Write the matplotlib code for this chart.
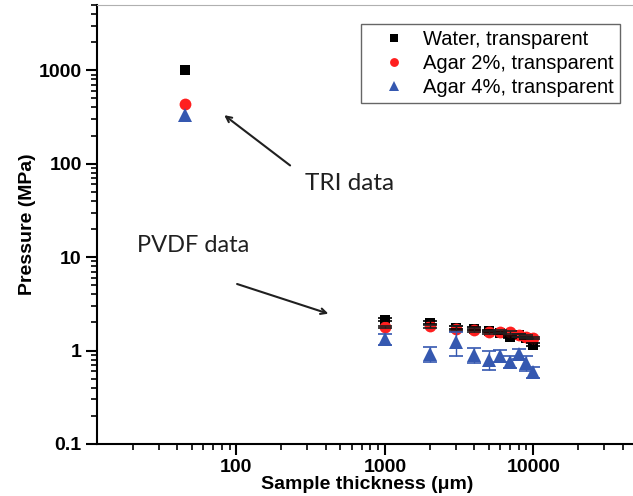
import numpy as np
import matplotlib
matplotlib.use("Agg")
import matplotlib.pyplot as plt
from matplotlib.ticker import FixedLocator, FixedFormatter, LogLocator, NullFormatter

# ---------------------------------------------------------
# Data
# ---------------------------------------------------------
TRI_X = [45]
TRI_WATER = [1000]
TRI_AGAR2 = [440]
TRI_AGAR4 = [335]

PVDF_X = [1000, 2000, 3000, 4000, 5000, 6000, 7000, 8000, 9000, 10000]
PVDF_WATER = [2.15, 1.99, 1.76, 1.72, 1.64, 1.56, 1.39, 1.45, 1.37, 1.16]
PVDF_WATER_ERR = [0.07, 0.07, 0.06, 0.05, 0.04, 0.04, 0.04, 0.04, 0.04, 0.04]
PVDF_AGAR2 = [1.80, 1.82, 1.72, 1.68, 1.58, 1.60, 1.57, 1.45, 1.40, 1.37]
PVDF_AGAR2_ERR = [0.05, 0.08, 0.10, 0.08, 0.06, 0.05, 0.05, 0.05, 0.05, 0.04]
PVDF_AGAR4 = [1.34, 0.93, 1.23, 0.90, 0.80, 0.88, 0.76, 0.93, 0.74, 0.59]
PVDF_AGAR4_ERR = [0.18, 0.17, 0.36, 0.16, 0.18, 0.13, 0.11, 0.11, 0.14, 0.08]

LABELS = ["Water, transparent", "Agar 2%, transparent", "Agar 4%, transparent"]
COLORS = ["#000000", "#ff1f1f", "#3558b0"]
ERR_COLORS = ["#000000", "#202020", "#3558b0"]
MARKERS = ["s", "o", "^"]

Y_TICKS = [0.1, 1, 10, 100, 1000]
Y_TICK_LABELS = ["0.1", "1", "10", "100", "1000"]
X_TICKS = [100, 1000, 10000]
X_TICK_LABELS = ["100", "1000", "10000"]

plt.rcParams["font.family"] = ["Liberation Sans", "DejaVu Sans"]

fig = plt.figure(figsize=(6.33, 4.96), dpi=100)
ax = fig.add_axes([97 / 633, 52 / 496, 540 / 633, 439 / 496])

series = [
    (TRI_WATER, PVDF_WATER, PVDF_WATER_ERR),
    (TRI_AGAR2, PVDF_AGAR2, PVDF_AGAR2_ERR),
    (TRI_AGAR4, PVDF_AGAR4, PVDF_AGAR4_ERR),
]
sizes = [7.5, 8.5, 10]

for (tri, pvdf, err), lab, c, ec, m, ms in zip(series, LABELS, COLORS, ERR_COLORS, MARKERS, sizes):
    ax.plot(TRI_X, tri, linestyle="none", marker=m, color=c, markersize=ms,
            markeredgewidth=0, label=lab, zorder=2)
    ax.plot(PVDF_X, pvdf, linestyle="none", marker=m, color=c, markersize=ms,
            markeredgewidth=0, zorder=2)
    ax.errorbar(PVDF_X, pvdf, yerr=err, fmt="none", ecolor=ec,
                elinewidth=1.0, capsize=5, capthick=1.2, zorder=3)

ax.set_xscale("log")
ax.set_yscale("log")
ax.set_xlim(11.5, 50000)
ax.set_ylim(0.1, 5000)

ax.xaxis.set_major_locator(FixedLocator(X_TICKS))
ax.xaxis.set_major_formatter(FixedFormatter(X_TICK_LABELS))
ax.yaxis.set_major_locator(FixedLocator(Y_TICKS))
ax.yaxis.set_major_formatter(FixedFormatter(Y_TICK_LABELS))
ax.xaxis.set_minor_locator(LogLocator(base=10, subs=np.arange(2, 10), numticks=20))
ax.yaxis.set_minor_locator(LogLocator(base=10, subs=np.arange(2, 10), numticks=20))
ax.xaxis.set_minor_formatter(NullFormatter())
ax.yaxis.set_minor_formatter(NullFormatter())

ax.tick_params(which="major", direction="out", length=8, width=1.5,
               labelsize=14, pad=3)
ax.tick_params(which="minor", direction="out", length=4, width=1.2)
for lbl in ax.get_xticklabels() + ax.get_yticklabels():
    lbl.set_fontweight("bold")

ax.spines["right"].set_visible(False)
ax.spines["top"].set_color("#b0b0b0")
ax.spines["left"].set_linewidth(1.5)
ax.spines["bottom"].set_linewidth(1.5)

ax.set_xlabel("Sample thickness (\u03bcm)", fontsize=14, fontweight="bold", labelpad=0)
ax.set_ylabel("Pressure (MPa)", fontsize=14, fontweight="bold", labelpad=2)

leg = ax.legend(loc="upper right", bbox_to_anchor=(0.9685, 0.957), borderaxespad=0,
                fontsize=14.5, frameon=True, fancybox=False, edgecolor="#404040",
                handlelength=2.7, handletextpad=0.1, labelspacing=0.25,
                borderpad=0.3, markerscale=0.75)
leg.get_frame().set_linewidth(1.0)

ax.annotate("", xy=(80, 345), xytext=(238, 92),
            arrowprops=dict(arrowstyle="->", color="#202020", lw=1.5))
ax.text(290, 62, "TRI data", fontsize=17.5, family=["Lato", "DejaVu Sans"],
        va="center", ha="left", color="#202020")

ax.annotate("", xy=(434, 2.43), xytext=(97, 5.27),
            arrowprops=dict(arrowstyle="->", color="#202020", lw=1.5))
ax.text(21.3, 13.4, "PVDF data", fontsize=17, family=["Lato", "DejaVu Sans"],
        va="center", ha="left", color="#202020")

fig.savefig("out.png", dpi=100)
